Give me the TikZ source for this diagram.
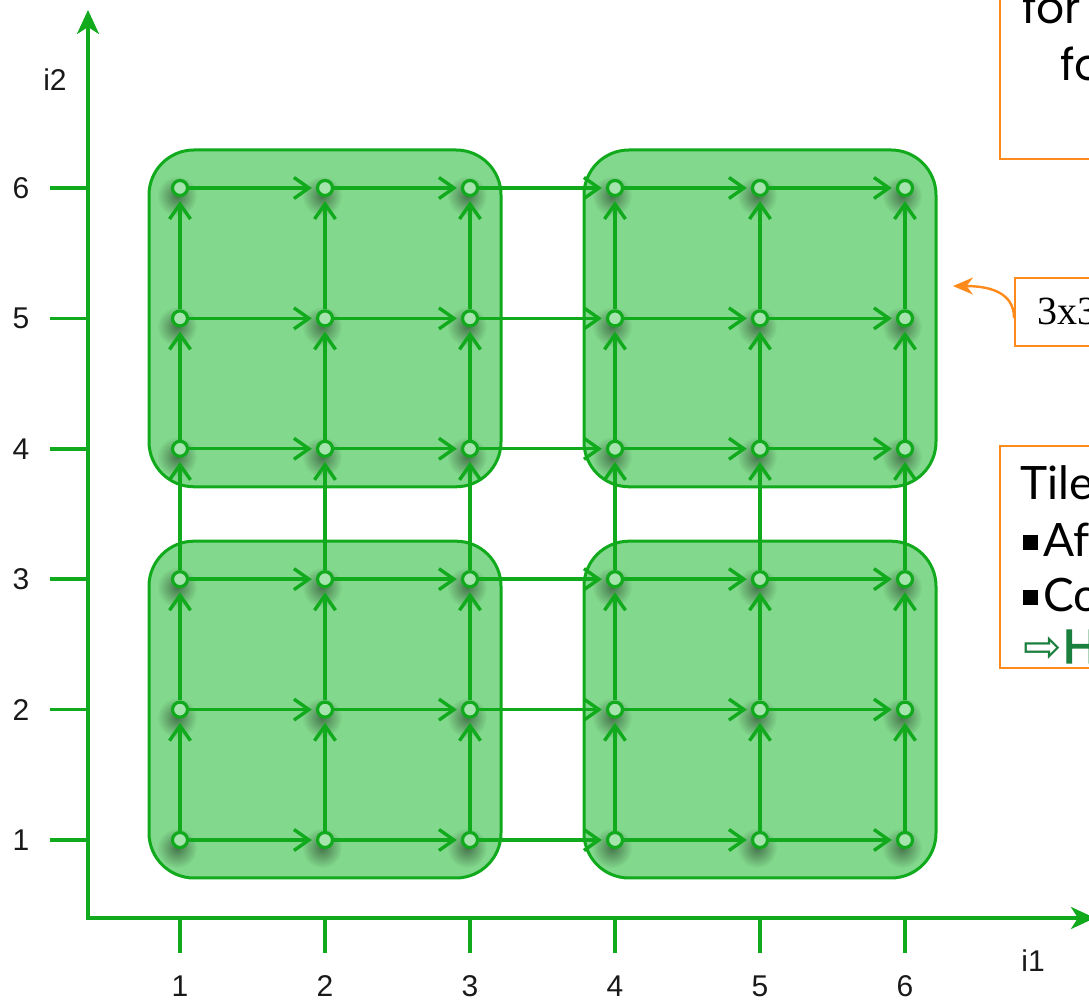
\documentclass[tikz,border=0pt]{standalone}
\usepackage{fontspec}
\setmainfont{Liberation Sans}
\newfontfamily\tilefont{Lato}
\newfontfamily\tileboldfont{Lato}[FakeBold=3]
\newfontfamily\forfont{Poppins}
\newfontfamily\serfont{Liberation Serif}
\newfontfamily\symfont{DejaVu Sans}
\usetikzlibrary{arrows.meta,fadings}
\definecolor{gridg}{HTML}{10AA1C}
\definecolor{tileg}{HTML}{82D88C}
\definecolor{ptg}{HTML}{A6E4AD}
\definecolor{orangex}{HTML}{FF8A1C}
\definecolor{darkg}{HTML}{1B7F3E}
\newcommand\blkbox{\rule[7pt]{15pt}{15pt}\hspace{5pt}}
\tikzfading[name=softdot,inner color=transparent!0,outer color=transparent!100]
\pgfdeclarelayer{bg}
\pgfdeclarelayer{edges}
\pgfsetlayers{bg,edges,main}
\tikzset{
  ax/.style={line width=3.5pt,gridg,{Stealth[length=24pt,width=22pt,inset=7pt]}-{Stealth[length=24pt,width=22pt,inset=7pt]}},
  tk/.style={line width=3.5pt,gridg},
  lbl/.style={font=\fontsize{30}{34}\selectfont,text=black!90,inner sep=0pt},
  tile/.style={draw=gridg,line width=3pt,fill=tileg,rounded corners=45pt},
  ed/.style={line width=3.4pt,gridg,-{Straight Barb[length=15pt,width=21pt]},shorten >=4pt},
  pt/.style={circle,draw=gridg,fill=ptg,line width=3.2pt,inner sep=0pt,minimum size=15pt},
  sh/.style={black,opacity=.45,path fading=softdot},
  nbox/.style={draw=orangex,line width=2pt,anchor=north west,inner sep=0pt,minimum width=200pt},
  txt/.style={anchor=base west,inner sep=0pt,text=black},
  cv/.style={orangex,line width=2.4pt,-{Stealth[length=20pt,width=17pt]}}
}
\begin{document}
\begin{tikzpicture}[x=145pt,y=130.4pt]
\useasboundingbox (-0.2414,-0.25) rectangle (7.269,7.4417);
\foreach \k in {1,...,6}{
  \draw[tk] (0.103,\k) -- (0.3655,\k);
  \draw[tk] (\k,0.1334) -- (\k,0.4018);
  \node[lbl] (yl\k) at (-0.097,\k) {\k};
  \node[lbl] (xl\k) at (\k,-0.12) {\k};
}
\coordinate (o) at (0.3655,0.4018);
\coordinate (ytop) at (0.3655,7.365);
\coordinate (xend) at (7.31,0.4018);
\draw[ax] (ytop) -- (o) -- (xend);
\node[lbl] (i2) at (0.138,6.828) {i2};
\node[lbl] (i1) at (6.883,0.072) {i1};
\begin{pgfonlayer}{bg}
\foreach \a/\b in {1/1,4/1,1/4,4/4}
  \draw[tile] ([shift={(-31pt,-38pt)}]\a,\b) rectangle ([shift={(31pt,38pt)}]\a+2,\b+2);
\foreach \i in {1,...,6}
  \foreach \j in {1,...,6}
    \fill[sh] ([shift={(-3pt,-8pt)}]\i,\j) circle (20pt);
\end{pgfonlayer}
\foreach \i in {1,...,6}
  \foreach \j in {1,...,6}
    \node[pt] (p\i\j) at (\i,\j) {};
\begin{pgfonlayer}{edges}
\foreach \i [evaluate=\i as \n using int(\i+1)] in {1,...,5}
  \foreach \j in {1,...,6}{
    \draw[ed] (p\i\j) -- (p\n\j);
    \draw[ed] (p\j\i) -- (p\j\n);
  }
\end{pgfonlayer}
\node[nbox,minimum height=178.6pt] (forbox) at (6.648,7.6) {};
\node[txt,font=\forfont\fontsize{44}{50}\selectfont] (for1) at (6.807,7.265) {for};
\node[txt,font=\forfont\fontsize{44}{50}\selectfont] (for2) at (7.069,6.828) {fo};
\node[nbox,minimum height=68pt,minimum width=150pt] (tbox) at (6.752,5.317) {};
\node[txt,font=\serfont\fontsize{40}{46}\selectfont] (t33) at (6.910,4.950) {3x3};
\coordinate (tip) at (6.331,5.248);
\draw[cv] ([yshift=-6pt]tbox.west) .. controls +(0pt,26pt) and +(36pt,0pt) .. (tip);
\node[nbox,minimum height=222pt] (tilebox) at (6.648,4.029) {};
\node[txt,font=\tilefont\fontsize{46}{54}\selectfont] (tl) at (6.793,3.608) {Tile};
\node[txt,font=\tilefont\fontsize{46}{54}\selectfont] (af) at (6.814,3.171) {\blkbox Af};
\node[txt,font=\tilefont\fontsize{46}{54}\selectfont] (co) at (6.814,2.749) {\blkbox Co};
\node[txt,font=\tileboldfont\fontsize{46}{54}\selectfont,text=darkg] (hh) at (6.814,2.358) {{\symfont\fontsize{46}{50}\selectfont ⇨}\hspace{1pt}H};
\end{tikzpicture}
\end{document}
